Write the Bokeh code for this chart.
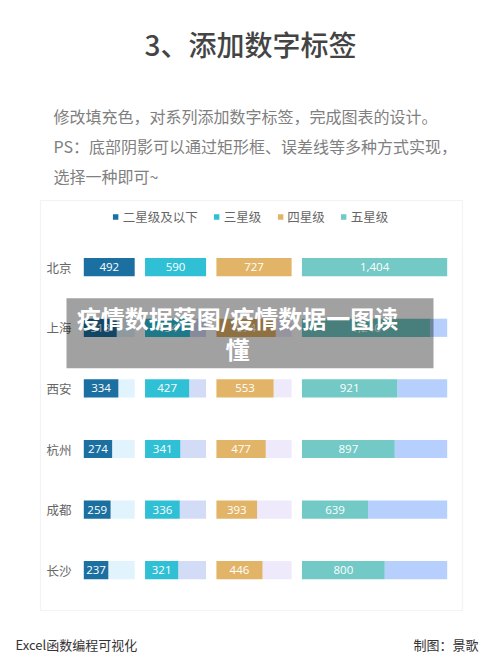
from bokeh.plotting import figure
from bokeh.models import Range1d, Label, BoxAnnotation, Legend, LegendItem, ColumnDataSource
from bokeh.core.properties import value
from bokeh.embed import file_html
from bokeh.resources import INLINE

# ---------------- data ----------------
cities = ["北京", "上海", "西安", "杭州", "成都", "长沙"]
series_names = ["二星级及以下", "三星级", "四星级", "五星级"]
two_star = [492, 318, 334, 274, 259, 237]
three_star = [590, 434, 427, 341, 336, 321]
four_star = [727, 574, 553, 477, 393, 446]
five_star = [1404, 1240, 921, 897, 639, 800]

title_text = "3、添加数字标签"
para_lines = [
    "修改填充色，对系列添加数字标签，完成图表的设计。",
    "PS：底部阴影可以通过矩形框、误差线等多种方式实现，",
    "选择一种即可~",
]
banner_lines = ["疫情数据落图/疫情数据一图读", "懂"]
footer_left = "Excel函数编程可视化"
footer_right = "制图：景歌"

# ---------------- style / layout (pixels) ----------------
series_values = [two_star, three_star, four_star, five_star]
bar_colors = ["#1B6FA1", "#2FC0D6", "#E2B468", "#72C9C6"]
shadow_colors = ["#E1F4FD", "#D3DCF7", "#EEEAFC", "#B6CFFC"]
GAP = 100            # spacer between panels (value units)
W, H = 500, 666
BARS_LEFT_PX, BARS_RIGHT_PX = 83.3, 446.7
ROW0_PX, ROW_STEP_PX = 266.7, 60.6
CJK = "'Noto Sans CJK SC', 'Noto Sans', sans-serif"
CJK_MED = "'Noto Sans CJK SC Medium', 'Noto Sans CJK SC', sans-serif"

rows = list(range(len(cities)))
maxes = [max(v) for v in series_values]
offsets = []
acc = 0
for m in maxes:
    offsets.append(acc)
    acc += m + GAP
total = acc - GAP
units_per_px = total / (BARS_RIGHT_PX - BARS_LEFT_PX)
x_start = -BARS_LEFT_PX * units_per_px
x_end = x_start + W * units_per_px
y_top = -ROW0_PX / ROW_STEP_PX
y_bottom = (H - ROW0_PX) / ROW_STEP_PX

p = figure(width=W, height=H,
           x_range=Range1d(x_start, x_end),
           y_range=Range1d(y_bottom, y_top),
           x_axis_type=None, y_axis_type=None,
           toolbar_location=None, output_backend="svg",
           min_border=0)
p.outline_line_color = None
p.background_fill_color = "white"
p.border_fill_color = "white"

# chart box
p.add_layout(BoxAnnotation(left=40, right=462, top=H - 200, bottom=H - 610,
                           left_units="screen", right_units="screen",
                           top_units="screen", bottom_units="screen",
                           fill_alpha=0, line_color="#D6D6D6", line_width=1.2,
                           level="underlay"))

legend_items = []
for k, vals in enumerate(series_values):
    off = offsets[k]
    src = ColumnDataSource(dict(
        y=rows,
        left=[off] * len(vals),
        right=[off + v for v in vals],
        full=[off + maxes[k]] * len(vals),
        mid=[off + v / 2 for v in vals],
        label=[f"{v:,}" for v in vals],
    ))
    p.hbar(y="y", left="right", right="full", height=0.3, source=src,
           fill_color=shadow_colors[k], line_color=None)
    r = p.hbar(y="y", left="left", right="right", height=0.3, source=src,
               fill_color=bar_colors[k], line_color=None)
    p.text(x="mid", y="y", text="label", source=src,
           text_color="white", text_font=value("Open Sans"),
           text_font_size=value("11.5px"), text_align="center",
           text_baseline="middle")
    legend_items.append(LegendItem(label=series_names[k], renderers=[r]))

# city names
p.text(x=[x_start + 46 * units_per_px] * len(cities), y=rows, text=cities,
       text_color="#666666", text_font=value(CJK),
       text_font_size=value("12.5px"), text_align="left",
       text_baseline="middle")

legend = Legend(items=legend_items, location="top_center",
                orientation="horizontal", glyph_width=7, glyph_height=7,
                label_standoff=4, spacing=15, padding=0, margin=207,
                label_height=18, label_text_font=CJK,
                label_text_font_size="12.5px", label_text_color="#666666",
                border_line_color=None, background_fill_alpha=0)
p.add_layout(legend)

# header
p.add_layout(Label(x=250, y=H - 43, x_units="screen", y_units="screen",
                   text=title_text, text_align="center", text_baseline="middle",
                   text_font=CJK_MED, text_font_size="28px",
                   text_color="#444444"))
for line, yy in zip(para_lines, [115, 145.5, 175.5]):
    p.add_layout(Label(x=53, y=H - yy, x_units="screen", y_units="screen",
                       text=line, text_align="left", text_baseline="middle",
                       text_font=CJK, text_font_size="16px",
                       text_color="#808080"))

# footer
p.add_layout(Label(x=15, y=H - 644, x_units="screen", y_units="screen",
                   text=footer_left, text_align="left", text_baseline="middle",
                   text_font=CJK, text_font_size="13px", text_color="#333333"))
p.add_layout(Label(x=478, y=H - 644, x_units="screen", y_units="screen",
                   text=footer_right, text_align="right", text_baseline="middle",
                   text_font=CJK, text_font_size="13px", text_color="#333333"))

# overlay banner
p.add_layout(BoxAnnotation(left=66, right=433, top=H - 297.7, bottom=H - 367.7,
                           left_units="screen", right_units="screen",
                           top_units="screen", bottom_units="screen",
                           fill_color="black", fill_alpha=0.37, line_color=None))
for line, yy in zip(banner_lines, [316.7, 347.5]):
    p.add_layout(Label(x=237, y=H - yy, x_units="screen", y_units="screen",
                       text=line, text_align="center", text_baseline="middle",
                       text_font=CJK, text_font_size="24px",
                       text_font_style="bold", text_color="white"))

open("out.html", "w").write(file_html(p, INLINE))
